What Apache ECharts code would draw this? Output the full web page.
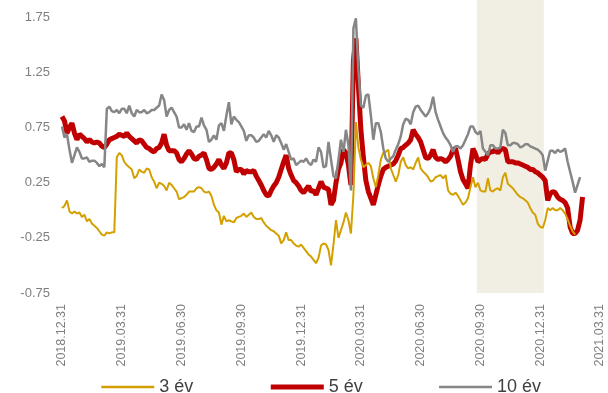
<!DOCTYPE html>
<html>
<head>
<meta charset="utf-8">
<script src="https://cdn.jsdelivr.net/npm/echarts@6/dist/echarts.min.js"></script>
<style>
  html, body { margin: 0; padding: 0; background: #ffffff; }
  #chart { width: 608px; height: 393px; }
</style>
</head>
<body>
<div id="chart"></div>
<script>
// Quarter-end tick labels along the time axis
const tickLabels = ['2018.12.31', '2019.03.31', '2019.06.30', '2019.09.30', '2019.12.31',
                    '2020.03.31', '2020.06.30', '2020.09.30', '2020.12.31', '2021.03.31'];

// Observations per quarter (about two per week)
const stepsPerQuarter = 24;

// Yields, %, starting 2018.12.31
const yield3y = [
  0.02, 0.04, 0.09, -0.01, -0.03, -0.01, -0.03, -0.02, -0.06, -0.04,
  -0.10, -0.08, -0.12, -0.14, -0.16, -0.19, -0.22, -0.23, -0.20, -0.21,
  -0.20, -0.20, 0.48, 0.52, 0.50, 0.44, 0.41, 0.39, 0.37, 0.29,
  0.31, 0.37, 0.35, 0.34, 0.38, 0.37, 0.30, 0.26, 0.20, 0.25,
  0.24, 0.22, 0.18, 0.25, 0.23, 0.20, 0.17, 0.10, 0.11, 0.12,
  0.14, 0.17, 0.17, 0.17, 0.20, 0.21, 0.20, 0.17, 0.16, 0.17,
  0.13, 0.05, 0.00, -0.02, -0.13, -0.05, -0.10, -0.09, -0.10, -0.11,
  -0.07, -0.06, -0.05, -0.03, -0.06, -0.04, -0.02, -0.06, -0.08, -0.08,
  -0.07, -0.11, -0.14, -0.16, -0.18, -0.19, -0.21, -0.23, -0.30, -0.27,
  -0.20, -0.27, -0.27, -0.30, -0.32, -0.33, -0.31, -0.34, -0.37, -0.40,
  -0.42, -0.45, -0.48, -0.43, -0.32, -0.30, -0.31, -0.36, -0.50, -0.31,
  -0.09, -0.25, -0.18, -0.11, -0.02, -0.09, -0.21, 0.14, 0.80, 0.57,
  0.46, 0.39, 0.41, 0.43, 0.40, 0.29, 0.21, 0.32, 0.46, 0.52,
  0.53, 0.55, 0.38, 0.32, 0.26, 0.32, 0.44, 0.48, 0.41, 0.38,
  0.39, 0.37, 0.43, 0.48, 0.38, 0.35, 0.33, 0.30, 0.26, 0.27,
  0.30, 0.31, 0.32, 0.29, 0.32, 0.18, 0.15, 0.14, 0.16, 0.13,
  0.09, 0.05, 0.07, 0.11, 0.21, 0.30, 0.21, 0.25, 0.18, 0.17,
  0.17, 0.29, 0.18, 0.17, 0.19, 0.20, 0.18, 0.30, 0.34, 0.24,
  0.22, 0.20, 0.17, 0.14, 0.12, 0.11, 0.09, 0.07, 0.02, -0.02,
  -0.04, -0.12, -0.15, -0.16, -0.09, 0.02, 0.00, 0.02, 0.00, 0.00,
  0.02, 0.00, -0.03, -0.08, -0.14, -0.19, -0.22
];

const yield5y = [
  0.85, 0.81, 0.70, 0.75, 0.79, 0.70, 0.64, 0.69, 0.67, 0.65,
  0.62, 0.64, 0.62, 0.61, 0.62, 0.61, 0.58, 0.57, 0.60, 0.64,
  0.65, 0.66, 0.67, 0.69, 0.68, 0.67, 0.70, 0.67, 0.65, 0.63,
  0.61, 0.64, 0.63, 0.60, 0.57, 0.56, 0.54, 0.53, 0.56, 0.57,
  0.61, 0.69, 0.59, 0.54, 0.54, 0.54, 0.52, 0.46, 0.44, 0.47,
  0.51, 0.54, 0.51, 0.47, 0.46, 0.49, 0.50, 0.52, 0.46, 0.38,
  0.37, 0.39, 0.42, 0.46, 0.41, 0.38, 0.43, 0.52, 0.52, 0.46,
  0.35, 0.37, 0.37, 0.33, 0.36, 0.35, 0.35, 0.36, 0.31, 0.27,
  0.23, 0.18, 0.14, 0.13, 0.18, 0.22, 0.25, 0.30, 0.37, 0.44,
  0.50, 0.38, 0.32, 0.27, 0.25, 0.22, 0.18, 0.16, 0.19, 0.22,
  0.17, 0.18, 0.14, 0.20, 0.26, 0.21, 0.20, 0.19, 0.05, 0.09,
  0.25, 0.37, 0.43, 0.55, 0.52, 0.41, 0.23, 1.36, 1.56, 1.13,
  0.73, 0.48, 0.27, 0.17, 0.11, 0.05, 0.14, 0.23, 0.31, 0.37,
  0.39, 0.40, 0.41, 0.42, 0.45, 0.50, 0.56, 0.57, 0.59, 0.61,
  0.64, 0.73, 0.69, 0.66, 0.62, 0.55, 0.48, 0.47, 0.50, 0.55,
  0.48, 0.46, 0.47, 0.46, 0.44, 0.46, 0.49, 0.55, 0.56, 0.46,
  0.35, 0.28, 0.24, 0.20, 0.41, 0.56, 0.51, 0.44, 0.46, 0.47,
  0.46, 0.51, 0.53, 0.53, 0.55, 0.52, 0.55, 0.56, 0.55, 0.44,
  0.44, 0.44, 0.43, 0.43, 0.42, 0.41, 0.40, 0.39, 0.37, 0.37,
  0.35, 0.34, 0.32, 0.30, 0.27, 0.09, 0.15, 0.17, 0.16, 0.12,
  0.10, 0.09, 0.07, 0.02, -0.15, -0.21, -0.21, -0.18, -0.09, 0.12
];

const yield10y = [
  0.76, 0.66, 0.69, 0.55, 0.43, 0.50, 0.57, 0.53, 0.47, 0.47,
  0.48, 0.44, 0.45, 0.45, 0.43, 0.40, 0.42, 0.39, 0.92, 0.94,
  0.90, 0.89, 0.91, 0.88, 0.92, 0.92, 0.88, 0.95, 0.88, 0.85,
  0.91, 0.89, 0.89, 0.91, 0.88, 0.89, 0.91, 0.91, 0.93, 0.95,
  1.05, 1.00, 0.85, 0.91, 0.93, 0.89, 0.85, 0.75, 0.75, 0.78,
  0.73, 0.79, 0.72, 0.71, 0.76, 0.76, 0.84, 0.77, 0.73, 0.62,
  0.64, 0.68, 0.64, 0.77, 0.79, 0.72, 0.86, 0.98, 0.78, 0.85,
  0.82, 0.80, 0.76, 0.72, 0.63, 0.68, 0.68, 0.66, 0.62, 0.63,
  0.66, 0.69, 0.66, 0.72, 0.68, 0.62, 0.68, 0.66, 0.61, 0.55,
  0.60, 0.53, 0.46, 0.47, 0.41, 0.43, 0.45, 0.44, 0.47, 0.43,
  0.41, 0.46, 0.44, 0.57, 0.53, 0.39, 0.40, 0.62, 0.46, 0.31,
  0.29, 0.46, 0.64, 0.53, 0.73, 0.59, 0.18, 1.65, 1.74, 1.27,
  0.95, 0.93, 1.04, 1.05, 0.86, 0.64, 0.79, 0.79, 0.71, 0.56,
  0.47, 0.44, 0.47, 0.49, 0.55, 0.60, 0.67, 0.78, 0.83, 0.82,
  0.78, 0.89, 0.94, 0.95, 0.91, 0.88, 0.85, 0.88, 0.93, 1.03,
  0.89, 0.82, 0.76, 0.70, 0.66, 0.63, 0.59, 0.53, 0.58, 0.58,
  0.56, 0.59, 0.64, 0.69, 0.76, 0.76, 0.71, 0.69, 0.72, 0.56,
  0.53, 0.50, 0.59, 0.59, 0.56, 0.56, 0.57, 0.73, 0.70, 0.59,
  0.59, 0.61, 0.61, 0.60, 0.57, 0.58, 0.60, 0.60, 0.58, 0.57,
  0.56, 0.55, 0.53, 0.50, 0.36, 0.45, 0.54, 0.54, 0.52, 0.55,
  0.53, 0.54, 0.56, 0.44, 0.35, 0.26, 0.16, 0.23, 0.30
];

// Highlighted period, in quarters from the first tick
const shadedRange = [6.94, 8.06];

const seriesNames = ['3 év', '5 év', '10 év'];

const colors = { y3: '#D4A000', y5: '#C00000', y10: '#868686' };
const widths = { y3: 2, y5: 5, y10: 2.5 };

function toPoints(values) {
  return values.map((v, i) => [i / stepsPerQuarter, v]);
}

const chart = echarts.init(document.getElementById('chart'), null, { renderer: 'canvas' });

const labelFont = 'Liberation Sans, Arial, sans-serif';

chart.setOption({
  animation: false,
  backgroundColor: '#ffffff',
  grid: { left: 62, right: 8, top: 0, bottom: 100, containLabel: false },
  legend: {
    data: [
      { name: seriesNames[0], lineStyle: { width: 2.5 } },
      { name: seriesNames[1], lineStyle: { width: 5 } },
      { name: seriesNames[2], lineStyle: { width: 2.5 } }
    ],
    left: 95,
    top: 373,
    padding: 5,
    itemWidth: 53,
    itemHeight: 20,
    itemGap: 75,
    itemStyle: { opacity: 0 },
    textStyle: { fontSize: 18, color: '#404040', fontFamily: labelFont, padding: [0, 0, 6, 0] }
  },
  xAxis: {
    type: 'value',
    min: 0,
    max: tickLabels.length - 1,
    interval: 1,
    axisLine: { show: false },
    axisTick: { show: false },
    splitLine: { show: false },
    axisLabel: {
      rotate: 90,
      margin: 11,
      fontSize: 12.5,
      color: '#7f7f7f',
      fontFamily: labelFont,
      formatter: v => tickLabels[Math.round(v)] || ''
    }
  },
  yAxis: {
    type: 'value',
    min: -0.75,
    max: 1.907,
    interval: 0.5,
    axisLine: { show: false },
    axisTick: { show: false },
    splitLine: { show: false },
    axisLabel: {
      showMaxLabel: false,
      margin: 12,
      fontSize: 13,
      color: '#7f7f7f',
      fontFamily: labelFont,
      formatter: v => v.toFixed(2)
    }
  },
  series: [
    {
      name: seriesNames[1],
      type: 'line',
      data: toPoints(yield5y),
      symbol: 'none',
      z: 2,
      color: colors.y5,
      lineStyle: { width: widths.y5, color: colors.y5 },
      markArea: {
        silent: true,
        itemStyle: { color: '#F1EEE4' },
        data: [[{ xAxis: shadedRange[0] }, { xAxis: shadedRange[1] }]]
      }
    },
    {
      name: seriesNames[0],
      type: 'line',
      data: toPoints(yield3y),
      symbol: 'none',
      z: 3,
      color: colors.y3,
      lineStyle: { width: widths.y3, color: colors.y3 }
    },
    {
      name: seriesNames[2],
      type: 'line',
      data: toPoints(yield10y),
      symbol: 'none',
      z: 4,
      color: colors.y10,
      lineStyle: { width: widths.y10, color: colors.y10 }
    }
  ]
});
</script>
</body>
</html>
